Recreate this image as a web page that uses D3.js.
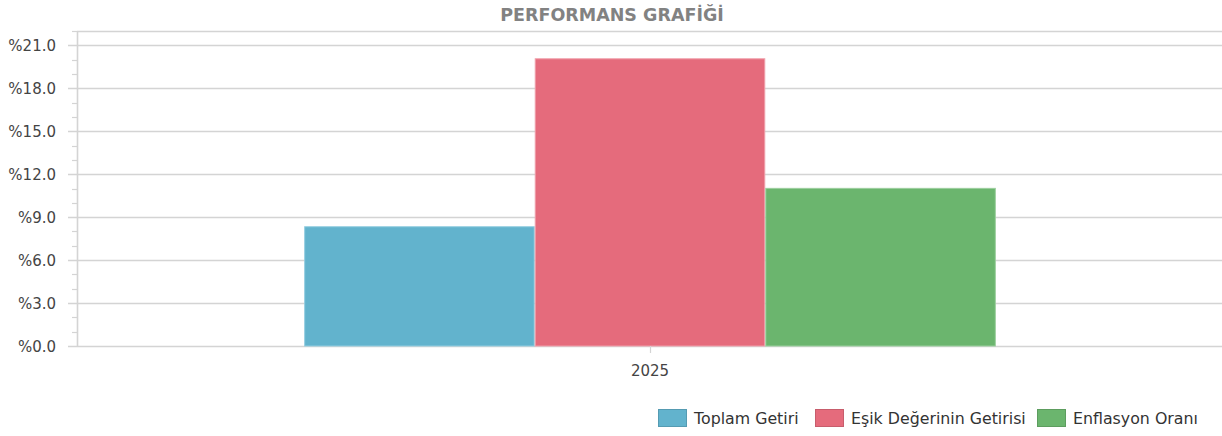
<!DOCTYPE html>
<html><head><meta charset="utf-8">
<script src="https://cdn.jsdelivr.net/npm/d3@7"></script>
<style>
body{margin:0;background:#fff;}
svg{display:block;}
text{font-family:"DejaVu Sans",Verdana,sans-serif;}
</style></head>
<body><svg id="chart" width="1222" height="436"></svg>
<script>
const title = "PERFORMANS GRAFİĞİ";
const categories = ["2025"];
const seriesNames = ["Toplam Getiri", "Eşik Değerinin Getirisi", "Enflasyon Oranı"];
const seriesValues = [8.33, 20.06, 11.01];
const seriesColors = ["#62b3cd", "#e56b7c", "#6bb56e"];
const seriesStrokes = ["#93cde0", "#f0a0ab", "#9ccf9e"];
const yTicks = [0, 3, 6, 9, 12, 15, 18, 21];
const yMinorTicks = d3.range(0, 23, 1);

const svg = d3.select("#chart");
const m = {left: 77, right: 1, top: 31, bottom: 90};
const W = 1222, H = 436;
const x0 = d3.scaleBand().domain(categories).range([m.left + 1, W]).paddingInner(0).paddingOuter(0.327);
const x1 = d3.scaleBand().domain(seriesNames).range([0, x0.bandwidth()]).paddingInner(0);
const y = d3.scaleLinear().domain([0, 22]).range([H - m.bottom, m.top]);

svg.append("text").attr("x", 612).attr("y", 21).attr("text-anchor", "middle")
  .attr("font-size", 17.5).attr("font-weight", "bold").attr("fill", "#828282").text(title);

// top border
svg.append("line").attr("x1", m.left).attr("x2", W).attr("y1", m.top + 0.5).attr("y2", m.top + 0.5)
  .attr("stroke", "#d4d4d4").attr("stroke-width", 1.5);

// gridlines
svg.append("g").selectAll("line").data(yTicks).join("line")
  .attr("x1", m.left - 9).attr("x2", W).attr("y1", d => Math.round(y(d)) + 0.5).attr("y2", d => Math.round(y(d)) + 0.5)
  .attr("stroke", "#d4d4d4").attr("stroke-width", 1.6);

// minor ticks
svg.append("g").selectAll("line").data(yMinorTicks.filter(d => d % 3 !== 0)).join("line")
  .attr("x1", m.left - 5).attr("x2", m.left).attr("y1", d => Math.round(y(d)) + 0.5).attr("y2", d => Math.round(y(d)) + 0.5)
  .attr("stroke", "#d4d4d4").attr("stroke-width", 1.2);

// y axis line
svg.append("line").attr("x1", m.left + 0.5).attr("x2", m.left + 0.5).attr("y1", m.top).attr("y2", y(0) + 1)
  .attr("stroke", "#d4d4d4").attr("stroke-width", 1.6);

// y labels
svg.append("g").selectAll("text").data(yTicks).join("text")
  .attr("x", 56).attr("y", d => y(d) + 5.5).attr("text-anchor", "end")
  .attr("font-size", 15).attr("fill", "#444").text(d => "%" + d.toFixed(1));

// bars
const g = svg.append("g");
categories.forEach(cat => {
  g.selectAll("rect").data(seriesValues).join("rect")
    .attr("x", (d, i) => x0(cat) + x1(seriesNames[i]) + 0.5)
    .attr("width", x1.bandwidth() - 1)
    .attr("y", d => y(d))
    .attr("height", d => y(0) - y(d))
    .attr("fill", (d, i) => seriesColors[i])
    .attr("stroke", (d, i) => seriesStrokes[i]).attr("stroke-width", 1);
});

// x ticks
svg.append("g").selectAll("line").data(categories).join("line")
  .attr("x1", d => Math.round(x0(d) + x0.bandwidth() / 2) + 0.5).attr("x2", d => Math.round(x0(d) + x0.bandwidth() / 2) + 0.5)
  .attr("y1", y(0)).attr("y2", y(0) + 7).attr("stroke", "#d4d4d4").attr("stroke-width", 1.2);
svg.append("g").selectAll("text").data(categories).join("text")
  .attr("x", d => x0(d) + x0.bandwidth() / 2).attr("y", 376).attr("text-anchor", "middle")
  .attr("font-size", 15).attr("fill", "#444").text(d => d);

// legend
const legendX = [658, 815, 1037];
const lg = svg.append("g");
seriesNames.forEach((n, i) => {
  lg.append("rect").attr("x", legendX[i] + 0.5).attr("y", 409.5).attr("width", 28).attr("height", 17)
    .attr("fill", seriesColors[i]).attr("stroke", d3.color(seriesColors[i]).darker(0.4)).attr("stroke-width", 1);
  lg.append("text").attr("x", legendX[i] + 36).attr("y", 424).attr("font-size", 15.8).attr("fill", "#333").text(n);
});
</script></body></html>
